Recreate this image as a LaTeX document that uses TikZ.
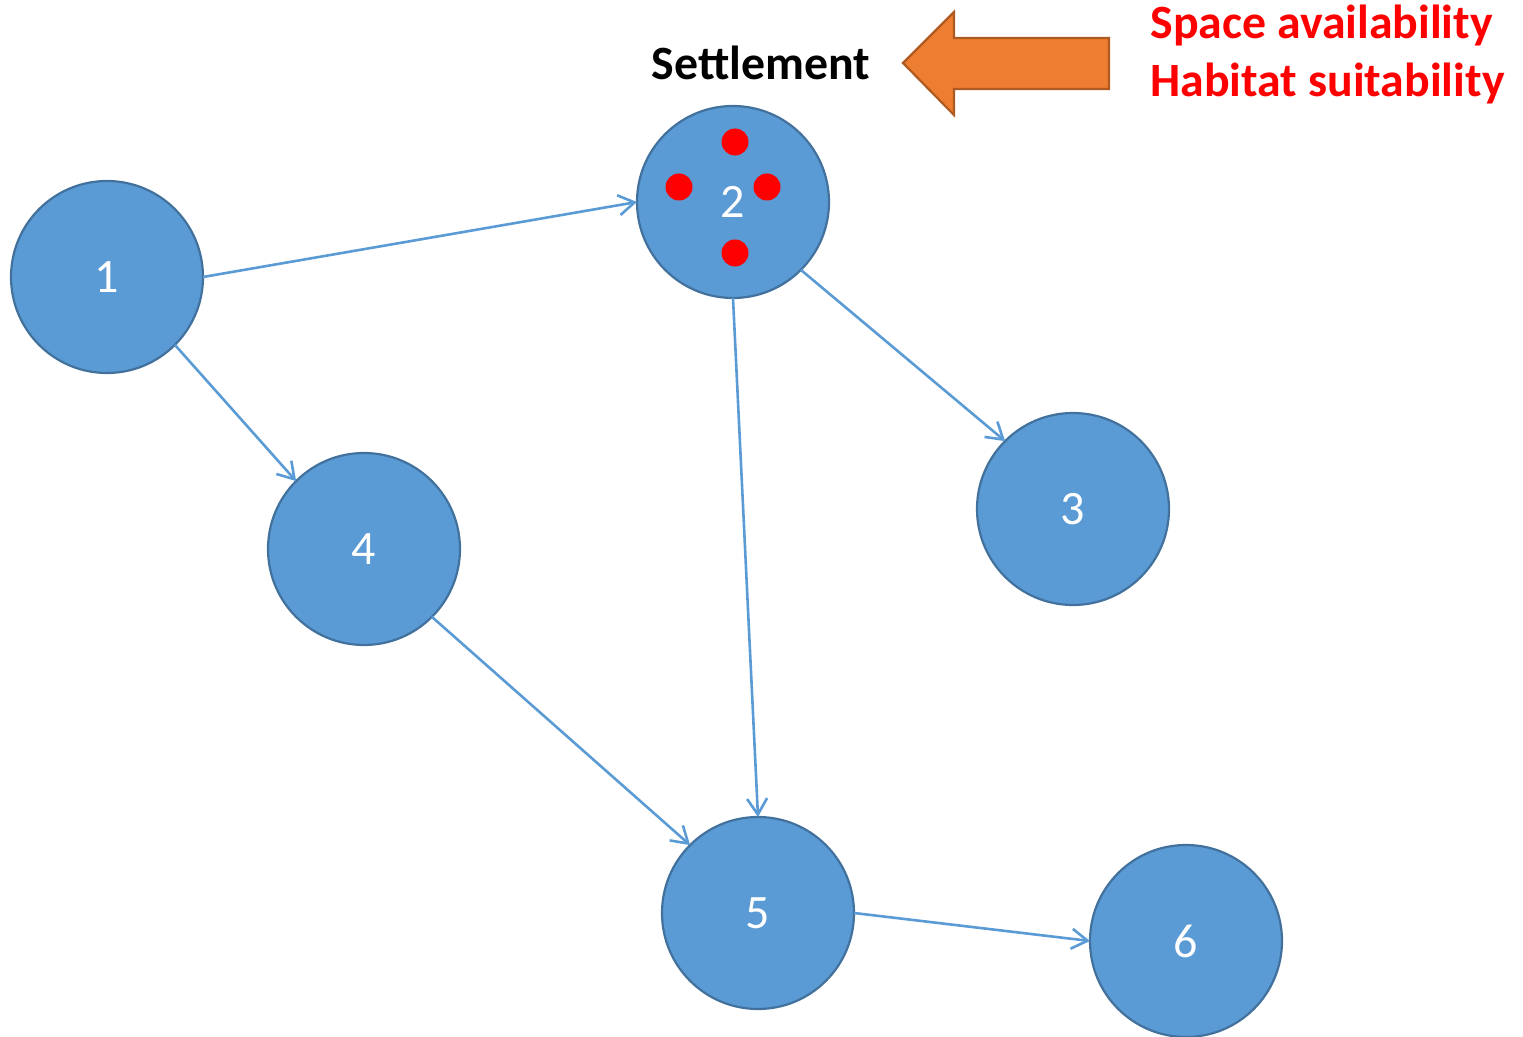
\documentclass[tikz,border=0pt]{standalone}
\usepackage{fontspec}
\setmainfont{Carlito}
\usetikzlibrary{arrows.meta}
\definecolor{nodefill}{HTML}{5B9BD5}
\definecolor{nodeedge}{HTML}{41719C}
\definecolor{linkblue}{HTML}{5B9BD5}
\definecolor{arrowfill}{HTML}{ED7D31}
\definecolor{arrowedge}{HTML}{AE5A21}
\definecolor{hotred}{HTML}{FF0000}
\tikzset{
  patch/.style={circle, minimum size=96pt, inner sep=0pt, outer sep=0pt,
    fill=nodefill, draw=nodeedge, line width=1.1pt,
    text=white, font=\fontsize{24}{29}\selectfont},
  link/.style={draw=linkblue, line width=1.3pt,
    -{Straight Barb[length=8pt, width=10pt, line width=1.3pt]}},
  larva/.style={circle, fill=hotred, minimum size=13.5pt, inner sep=0pt},
  label/.style={font=\fontsize{23.9}{29}\selectfont\bfseries, inner sep=0pt}
}
\begin{document}
\begin{tikzpicture}[x=0.5pt, y=-0.5pt]
  \useasboundingbox (0,0) rectangle (1523,1037);

  % habitat patches
  \node[patch] (n1) at (107,277) {1};
  \node[patch] (n2) at (733,202) {2};
  \node[patch] (n3) at (1073,509) {3};
  \node[patch] (n4) at (364,549) {4};
  \node[patch] (n5) at (758,913) {5};
  \node[patch] (n6) at (1186,941) {6};

  % settlers in patch 2
  \node[larva] (d1) at (735,142) {};
  \node[larva] (d2) at (679,187) {};
  \node[larva] (d3) at (767,187) {};
  \node[larva] (d4) at (735,253) {};

  % dispersal links
  \draw[link] (n1.east) -- (n2.west);
  \draw[link] (n1.south east) -- (n4.north west);
  \draw[link] (n2.south east) -- (n3.north west);
  \draw[link] (n2.south) -- (n5.north);
  \draw[link] (n4.south east) -- (n5.north west);
  \draw[link] (n5.east) -- (n6.west);

  % settlement label and driving factors
  \node[label, anchor=base] (settle) at (761,80) {Settlement};
  \draw[fill=arrowfill, draw=arrowedge, line width=1.1pt, line join=miter]
    (903,63) -- (954,12) -- (954,38) -- (1109,38) -- (1109,89)
    -- (954,89) -- (954,115) -- cycle;
  \node[label, anchor=base west, text=hotred] (space) at (1150,39) {Space availability};
  \node[label, anchor=base west, text=hotred] (habitat) at (1150,97) {Habitat suitability};
\end{tikzpicture}
\end{document}
